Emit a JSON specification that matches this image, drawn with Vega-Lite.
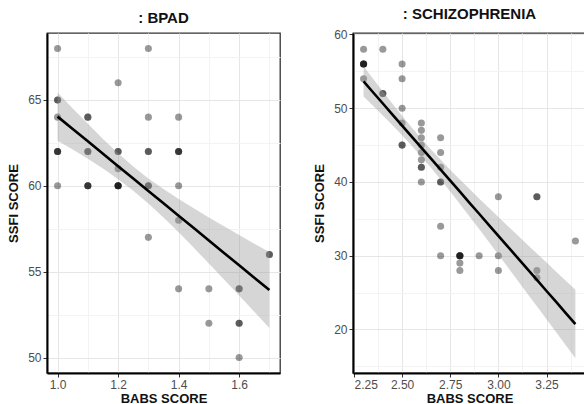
{
  "$schema": "https://vega.github.io/schema/vega-lite/v6.json",
  "padding": {"left": 6, "top": 5, "right": 0, "bottom": 0},
  "spacing": 31,
  "datasets": {
    "bpad": [
      {"babs": 1.0, "ssfi": 68}, {"babs": 1.0, "ssfi": 65}, {"babs": 1.0, "ssfi": 65}, {"babs": 1.0, "ssfi": 64},
      {"babs": 1.0, "ssfi": 62}, {"babs": 1.0, "ssfi": 62}, {"babs": 1.0, "ssfi": 62}, {"babs": 1.0, "ssfi": 60},
      {"babs": 1.1, "ssfi": 64}, {"babs": 1.1, "ssfi": 64}, {"babs": 1.1, "ssfi": 62}, {"babs": 1.1, "ssfi": 62},
      {"babs": 1.1, "ssfi": 60}, {"babs": 1.1, "ssfi": 60}, {"babs": 1.1, "ssfi": 60},
      {"babs": 1.2, "ssfi": 66}, {"babs": 1.2, "ssfi": 62}, {"babs": 1.2, "ssfi": 62}, {"babs": 1.2, "ssfi": 61},
      {"babs": 1.2, "ssfi": 60}, {"babs": 1.2, "ssfi": 60}, {"babs": 1.2, "ssfi": 60}, {"babs": 1.2, "ssfi": 60},
      {"babs": 1.3, "ssfi": 68}, {"babs": 1.3, "ssfi": 64}, {"babs": 1.3, "ssfi": 62}, {"babs": 1.3, "ssfi": 62},
      {"babs": 1.3, "ssfi": 60}, {"babs": 1.3, "ssfi": 60}, {"babs": 1.3, "ssfi": 57},
      {"babs": 1.4, "ssfi": 64}, {"babs": 1.4, "ssfi": 62}, {"babs": 1.4, "ssfi": 62}, {"babs": 1.4, "ssfi": 62},
      {"babs": 1.4, "ssfi": 60}, {"babs": 1.4, "ssfi": 58}, {"babs": 1.4, "ssfi": 54},
      {"babs": 1.5, "ssfi": 54}, {"babs": 1.5, "ssfi": 52},
      {"babs": 1.6, "ssfi": 54}, {"babs": 1.6, "ssfi": 54}, {"babs": 1.6, "ssfi": 52}, {"babs": 1.6, "ssfi": 52},
      {"babs": 1.6, "ssfi": 50},
      {"babs": 1.7, "ssfi": 56}, {"babs": 1.7, "ssfi": 56}
    ],
    "bpadFit": [
      {"babs": 1.00, "fit": 64.03, "lo": 62.63, "hi": 65.43},
      {"babs": 1.05, "fit": 63.31, "lo": 62.11, "hi": 64.51},
      {"babs": 1.10, "fit": 62.59, "lo": 61.57, "hi": 63.61},
      {"babs": 1.15, "fit": 61.87, "lo": 61.01, "hi": 62.73},
      {"babs": 1.20, "fit": 61.14, "lo": 60.39, "hi": 61.89},
      {"babs": 1.25, "fit": 60.42, "lo": 59.72, "hi": 61.12},
      {"babs": 1.30, "fit": 59.70, "lo": 58.97, "hi": 60.43},
      {"babs": 1.35, "fit": 58.98, "lo": 58.15, "hi": 59.81},
      {"babs": 1.40, "fit": 58.26, "lo": 57.29, "hi": 59.23},
      {"babs": 1.45, "fit": 57.54, "lo": 56.39, "hi": 58.69},
      {"babs": 1.50, "fit": 56.81, "lo": 55.47, "hi": 58.15},
      {"babs": 1.55, "fit": 56.09, "lo": 54.54, "hi": 57.64},
      {"babs": 1.60, "fit": 55.37, "lo": 53.61, "hi": 57.13},
      {"babs": 1.65, "fit": 54.65, "lo": 52.67, "hi": 56.63},
      {"babs": 1.70, "fit": 53.93, "lo": 51.72, "hi": 56.14}
    ],
    "scz": [
      {"babs": 2.3, "ssfi": 58}, {"babs": 2.3, "ssfi": 56}, {"babs": 2.3, "ssfi": 56}, {"babs": 2.3, "ssfi": 56},
      {"babs": 2.3, "ssfi": 56}, {"babs": 2.3, "ssfi": 54},
      {"babs": 2.4, "ssfi": 58}, {"babs": 2.4, "ssfi": 52}, {"babs": 2.4, "ssfi": 52},
      {"babs": 2.5, "ssfi": 56}, {"babs": 2.5, "ssfi": 54}, {"babs": 2.5, "ssfi": 50}, {"babs": 2.5, "ssfi": 48},
      {"babs": 2.5, "ssfi": 45}, {"babs": 2.5, "ssfi": 45},
      {"babs": 2.6, "ssfi": 48}, {"babs": 2.6, "ssfi": 47}, {"babs": 2.6, "ssfi": 46}, {"babs": 2.6, "ssfi": 45},
      {"babs": 2.6, "ssfi": 44}, {"babs": 2.6, "ssfi": 43}, {"babs": 2.6, "ssfi": 42}, {"babs": 2.6, "ssfi": 42},
      {"babs": 2.6, "ssfi": 40},
      {"babs": 2.7, "ssfi": 46}, {"babs": 2.7, "ssfi": 44}, {"babs": 2.7, "ssfi": 42}, {"babs": 2.7, "ssfi": 40},
      {"babs": 2.7, "ssfi": 40}, {"babs": 2.7, "ssfi": 34}, {"babs": 2.7, "ssfi": 30},
      {"babs": 2.8, "ssfi": 30}, {"babs": 2.8, "ssfi": 30}, {"babs": 2.8, "ssfi": 30}, {"babs": 2.8, "ssfi": 30},
      {"babs": 2.8, "ssfi": 29}, {"babs": 2.8, "ssfi": 28},
      {"babs": 2.9, "ssfi": 30},
      {"babs": 3.0, "ssfi": 38}, {"babs": 3.0, "ssfi": 30}, {"babs": 3.0, "ssfi": 28},
      {"babs": 3.2, "ssfi": 38}, {"babs": 3.2, "ssfi": 38}, {"babs": 3.2, "ssfi": 28}, {"babs": 3.2, "ssfi": 27},
      {"babs": 3.4, "ssfi": 32}
    ],
    "sczFit": [
      {"babs": 2.30, "fit": 53.63, "lo": 51.58, "hi": 55.68},
      {"babs": 2.35, "fit": 52.13, "lo": 50.30, "hi": 53.96},
      {"babs": 2.40, "fit": 50.64, "lo": 49.01, "hi": 52.27},
      {"babs": 2.45, "fit": 49.14, "lo": 47.69, "hi": 50.60},
      {"babs": 2.50, "fit": 47.65, "lo": 46.33, "hi": 48.97},
      {"babs": 2.55, "fit": 46.15, "lo": 44.92, "hi": 47.38},
      {"babs": 2.60, "fit": 44.66, "lo": 43.46, "hi": 45.86},
      {"babs": 2.65, "fit": 43.16, "lo": 41.92, "hi": 44.40},
      {"babs": 2.70, "fit": 41.67, "lo": 40.34, "hi": 43.00},
      {"babs": 2.75, "fit": 40.17, "lo": 38.70, "hi": 41.64},
      {"babs": 2.80, "fit": 38.68, "lo": 37.03, "hi": 40.33},
      {"babs": 2.85, "fit": 37.18, "lo": 35.32, "hi": 39.04},
      {"babs": 2.90, "fit": 35.69, "lo": 33.61, "hi": 37.77},
      {"babs": 2.95, "fit": 34.19, "lo": 31.88, "hi": 36.50},
      {"babs": 3.00, "fit": 32.70, "lo": 30.15, "hi": 35.25},
      {"babs": 3.05, "fit": 31.20, "lo": 28.40, "hi": 34.00},
      {"babs": 3.10, "fit": 29.71, "lo": 26.65, "hi": 32.77},
      {"babs": 3.15, "fit": 28.21, "lo": 24.89, "hi": 31.53},
      {"babs": 3.20, "fit": 26.72, "lo": 23.14, "hi": 30.30},
      {"babs": 3.25, "fit": 25.22, "lo": 21.38, "hi": 29.07},
      {"babs": 3.30, "fit": 23.73, "lo": 19.62, "hi": 27.84},
      {"babs": 3.35, "fit": 22.23, "lo": 17.85, "hi": 26.61},
      {"babs": 3.40, "fit": 20.74, "lo": 16.09, "hi": 25.39}
    ]
  },
  "hconcat": [
    {
      "width": 233,
      "height": 340,
      "title": {"text": ": BPAD", "font": "Liberation Sans", "fontSize": 15, "fontWeight": "bold", "color": "#111111", "baseline": "alphabetic", "offset": -5.1, "anchor": "middle"},
      "encoding": {
        "x": {
          "field": "babs", "type": "quantitative",
          "scale": {"domain": [0.965, 1.735], "zero": false, "nice": false},
          "axis": {
            "title": "BABS SCORE",
            "values": [1.0, 1.1, 1.2, 1.3, 1.4, 1.5, 1.6, 1.7],
            "format": ".1f",
            "labelExpr": "round(datum.value*10) % 2 == 0 ? datum.label : ''",
            "tickOpacity": {"condition": {"test": "round(datum.value*10) % 2 == 1", "value": 0}, "value": 1},
            "gridColor": {"condition": {"test": "round(datum.value*10) % 2 == 1", "value": "#f3f3f3"}, "value": "#e6e6e6"},
            "titleBaseline": "alphabetic",
            "titleY": 29.3
          }
        },
        "y": {
          "type": "quantitative",
          "scale": {"domain": [49.1, 68.9], "zero": false, "nice": false},
          "axis": {
            "title": "SSFI SCORE",
            "values": [50, 52.5, 55, 57.5, 60, 62.5, 65, 67.5],
            "labelExpr": "datum.value % 5 == 0 ? datum.label : ''",
            "tickOpacity": {"condition": {"test": "datum.value % 5 != 0", "value": 0}, "value": 1},
            "gridColor": {"condition": {"test": "datum.value % 5 != 0", "value": "#f3f3f3"}, "value": "#e6e6e6"},
            "titleBaseline": "alphabetic",
            "titleX": -29.7
          }
        }
      },
      "layer": [
        {
          "data": {"name": "bpad"},
          "mark": {"type": "circle", "size": 50, "color": "#000000", "opacity": 0.4},
          "encoding": {"y": {"field": "ssfi", "type": "quantitative"}}
        },
        {
          "data": {"name": "bpadFit"},
          "mark": {"type": "area", "color": "#999999", "opacity": 0.4},
          "encoding": {"y": {"field": "lo", "type": "quantitative"}, "y2": {"field": "hi"}}
        },
        {
          "data": {"name": "bpadFit"},
          "mark": {"type": "line", "color": "#000000", "strokeWidth": 2.6},
          "encoding": {"y": {"field": "fit", "type": "quantitative"}}
        }
      ]
    },
    {
      "width": 233,
      "height": 340,
      "title": {"text": ": SCHIZOPHRENIA", "font": "Liberation Sans", "fontSize": 15, "fontWeight": "bold", "color": "#111111", "baseline": "alphabetic", "offset": -5.1, "anchor": "middle"},
      "encoding": {
        "x": {
          "field": "babs", "type": "quantitative",
          "scale": {"domain": [2.245, 3.455], "zero": false, "nice": false},
          "axis": {
            "title": "BABS SCORE",
            "values": [2.25, 2.375, 2.5, 2.625, 2.75, 2.875, 3.0, 3.125, 3.25, 3.375],
            "format": ".2f",
            "labelExpr": "abs(datum.value*4 - round(datum.value*4)) < 0.001 ? datum.label : ''",
            "tickOpacity": {"condition": {"test": "abs(datum.value*4 - round(datum.value*4)) > 0.001", "value": 0}, "value": 1},
            "gridColor": {"condition": {"test": "abs(datum.value*4 - round(datum.value*4)) > 0.001", "value": "#f3f3f3"}, "value": "#e6e6e6"},
            "titleBaseline": "alphabetic",
            "titleY": 29.3
          }
        },
        "y": {
          "type": "quantitative",
          "scale": {"domain": [14.1, 60.2], "zero": false, "nice": false},
          "axis": {
            "title": "SSFI SCORE",
            "values": [15, 20, 25, 30, 35, 40, 45, 50, 55, 60],
            "labelExpr": "datum.value % 10 == 0 ? datum.label : ''",
            "tickOpacity": {"condition": {"test": "datum.value % 10 != 0", "value": 0}, "value": 1},
            "gridColor": {"condition": {"test": "datum.value % 10 != 0", "value": "#f3f3f3"}, "value": "#e6e6e6"},
            "titleBaseline": "alphabetic",
            "titleX": -29.7
          }
        }
      },
      "layer": [
        {
          "data": {"name": "scz"},
          "mark": {"type": "circle", "size": 50, "color": "#000000", "opacity": 0.4},
          "encoding": {"y": {"field": "ssfi", "type": "quantitative"}}
        },
        {
          "data": {"name": "sczFit"},
          "mark": {"type": "area", "color": "#999999", "opacity": 0.4},
          "encoding": {"y": {"field": "lo", "type": "quantitative"}, "y2": {"field": "hi"}}
        },
        {
          "data": {"name": "sczFit"},
          "mark": {"type": "line", "color": "#000000", "strokeWidth": 2.6},
          "encoding": {"y": {"field": "fit", "type": "quantitative"}}
        }
      ]
    }
  ],
  "config": {
    "background": "#ffffff",
    "view": {"stroke": "#333333", "strokeWidth": 1.3},
    "axis": {
      "grid": true,
      "gridWidth": 1,
      "domainColor": "#000000",
      "domainWidth": 2,
      "tickColor": "#333333",
      "tickSize": 4,
      "tickWidth": 1,
      "labelFont": "Liberation Sans",
      "labelFontSize": 12,
      "labelColor": "#4d4d4d",
      "labelPadding": 2,
      "titleFont": "Liberation Sans",
      "titleFontSize": 13,
      "titleFontWeight": "bold",
      "titleColor": "#111111"
    }
  }
}
